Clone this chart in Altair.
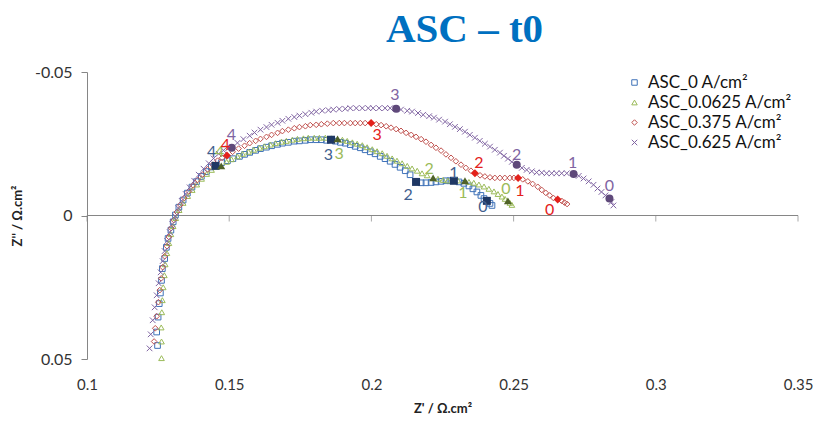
import altair as alt
import pandas as pd

SERIES = ["ASC_0 A/cm²", "ASC_0.0625 A/cm²", "ASC_0.375 A/cm²", "ASC_0.625 A/cm²"]

# Z' (Ohm.cm2), Z'' (Ohm.cm2)
blue_pts = [
    (0.1248, 0.0453), (0.1245, 0.0406), (0.1250, 0.0354), (0.1254, 0.0307), (0.1258, 0.0270),
    (0.1262, 0.0226), (0.1265, 0.0185), (0.1273, 0.0150), (0.1279, 0.0111), (0.1285, 0.0080),
    (0.1295, 0.0051), (0.1303, 0.0022), (0.1311, -0.0002), (0.1323, -0.0029), (0.1338, -0.0054),
    (0.1353, -0.0078), (0.1369, -0.0099), (0.1385, -0.0118), (0.1402, -0.0136), (0.1420, -0.0153),
    (0.1437, -0.0169),
    (0.1473, -0.0184), (0.1494, -0.0191), (0.1513, -0.0198), (0.1536, -0.0206), (0.1554, -0.0213),
    (0.1572, -0.0220), (0.1593, -0.0227), (0.1610, -0.0233), (0.1631, -0.0238), (0.1649, -0.0243),
    (0.1670, -0.0248), (0.1687, -0.0252), (0.1708, -0.0255), (0.1729, -0.0259), (0.1747, -0.0260),
    (0.1768, -0.0262), (0.1785, -0.0264), (0.1806, -0.0264), (0.1824, -0.0264), (0.1842, -0.0262),
    (0.1873, -0.0259), (0.1891, -0.0255), (0.1908, -0.0252), (0.1926, -0.0247), (0.1943, -0.0241),
    (0.1961, -0.0236), (0.1978, -0.0229), (0.1996, -0.0222), (0.2013, -0.0215), (0.2031, -0.0206),
    (0.2048, -0.0198), (0.2066, -0.0189), (0.2083, -0.0178), (0.2101, -0.0168), (0.2119, -0.0156),
    (0.2136, -0.0142),
    (0.2175, -0.0114), (0.2192, -0.0114), (0.2210, -0.0115), (0.2227, -0.0117), (0.2245, -0.0119),
    (0.2262, -0.0121), (0.2276, -0.0121),
    (0.2308, -0.0117), (0.2325, -0.0112), (0.2343, -0.0103), (0.2357, -0.0093), (0.2371, -0.0082),
    (0.2385, -0.0070), (0.2396, -0.0059), (0.2417, -0.0042), (0.2424, -0.0035),
]
green_pts = [
    (0.1262, 0.0497), (0.1262, 0.0439), (0.1261, 0.0390), (0.1263, 0.0337), (0.1265, 0.0295),
    (0.1268, 0.0250), (0.1272, 0.0208), (0.1275, 0.0170), (0.1281, 0.0131), (0.1288, 0.0096),
    (0.1295, 0.0065), (0.1303, 0.0037), (0.1312, 0.0009), (0.1324, -0.0019), (0.1338, -0.0044),
    (0.1354, -0.0068), (0.1370, -0.0089), (0.1386, -0.0108), (0.1403, -0.0128), (0.1421, -0.0145),
    (0.1438, -0.0159), (0.1456, -0.0170),
    (0.1491, -0.0187), (0.1508, -0.0196), (0.1529, -0.0206), (0.1547, -0.0215), (0.1568, -0.0222),
    (0.1586, -0.0229), (0.1607, -0.0236), (0.1624, -0.0241), (0.1645, -0.0247), (0.1663, -0.0252),
    (0.1684, -0.0257), (0.1701, -0.0260), (0.1722, -0.0264), (0.1740, -0.0267), (0.1761, -0.0269),
    (0.1778, -0.0271), (0.1799, -0.0271), (0.1817, -0.0271), (0.1838, -0.0271), (0.1859, -0.0269),
    (0.1898, -0.0264), (0.1915, -0.0260), (0.1933, -0.0255), (0.1950, -0.0250), (0.1968, -0.0245),
    (0.1985, -0.0238), (0.2003, -0.0231), (0.2020, -0.0224), (0.2038, -0.0217), (0.2055, -0.0208),
    (0.2073, -0.0199), (0.2090, -0.0191), (0.2108, -0.0182), (0.2126, -0.0173), (0.2143, -0.0164),
    (0.2161, -0.0156), (0.2178, -0.0147), (0.2196, -0.0140),
    (0.2234, -0.0128), (0.2252, -0.0124), (0.2269, -0.0122), (0.2287, -0.0122), (0.2304, -0.0122),
    (0.2343, -0.0117), (0.2360, -0.0114), (0.2378, -0.0108), (0.2396, -0.0101), (0.2413, -0.0093),
    (0.2431, -0.0084), (0.2445, -0.0075), (0.2459, -0.0066), (0.2470, -0.0058), (0.2487, -0.0044),
    (0.2494, -0.0037),
]
red_pts = [
    (0.1236, 0.0439), (0.1240, 0.0393), (0.1245, 0.0351), (0.1251, 0.0302), (0.1256, 0.0260),
    (0.1261, 0.0219), (0.1266, 0.0180), (0.1273, 0.0142), (0.1281, 0.0107), (0.1288, 0.0075),
    (0.1296, 0.0044), (0.1305, 0.0016), (0.1316, -0.0012), (0.1328, -0.0037), (0.1342, -0.0061),
    (0.1358, -0.0084), (0.1373, -0.0105), (0.1389, -0.0124), (0.1407, -0.0143), (0.1424, -0.0161),
    (0.1442, -0.0177), (0.1459, -0.0191), (0.1475, -0.0201),
    (0.1512, -0.0222), (0.1533, -0.0233), (0.1554, -0.0243), (0.1572, -0.0252), (0.1593, -0.0260),
    (0.1610, -0.0267), (0.1631, -0.0274), (0.1649, -0.0281), (0.1670, -0.0288), (0.1687, -0.0294),
    (0.1708, -0.0299), (0.1729, -0.0304), (0.1747, -0.0308), (0.1768, -0.0311), (0.1785, -0.0315),
    (0.1806, -0.0316), (0.1824, -0.0318), (0.1845, -0.0320), (0.1866, -0.0322), (0.1887, -0.0322),
    (0.1905, -0.0322), (0.1926, -0.0322), (0.1943, -0.0322), (0.1961, -0.0322), (0.1978, -0.0322),
    (0.2017, -0.0318), (0.2034, -0.0315), (0.2052, -0.0311), (0.2069, -0.0306), (0.2087, -0.0301),
    (0.2104, -0.0295), (0.2122, -0.0288), (0.2140, -0.0281), (0.2157, -0.0274), (0.2175, -0.0266),
    (0.2192, -0.0257), (0.2210, -0.0246), (0.2227, -0.0236), (0.2245, -0.0226), (0.2262, -0.0213),
    (0.2280, -0.0201), (0.2297, -0.0189), (0.2315, -0.0177), (0.2332, -0.0166), (0.2350, -0.0156),
    (0.2382, -0.0140), (0.2399, -0.0136), (0.2417, -0.0133), (0.2434, -0.0131), (0.2452, -0.0131),
    (0.2469, -0.0131), (0.2487, -0.0131), (0.2501, -0.0131),
    (0.2532, -0.0126), (0.2550, -0.0119), (0.2567, -0.0110), (0.2585, -0.0100), (0.2599, -0.0089),
    (0.2613, -0.0079), (0.2627, -0.0070), (0.2640, -0.0061), (0.2669, -0.0051), (0.2679, -0.0045),
    (0.2688, -0.0040),
]
purple_pts = [
    (0.1220, 0.0463), (0.1224, 0.0414), (0.1231, 0.0365), (0.1238, 0.0320), (0.1245, 0.0278),
    (0.1252, 0.0236), (0.1259, 0.0198), (0.1266, 0.0159), (0.1273, 0.0124), (0.1282, 0.0089),
    (0.1291, 0.0058), (0.1300, 0.0030), (0.1310, 0.0002), (0.1321, -0.0026), (0.1333, -0.0051),
    (0.1347, -0.0075), (0.1361, -0.0098), (0.1377, -0.0121), (0.1393, -0.0142), (0.1410, -0.0163),
    (0.1428, -0.0182), (0.1445, -0.0199), (0.1463, -0.0215), (0.1480, -0.0227), (0.1496, -0.0234),
    (0.1529, -0.0253), (0.1550, -0.0266), (0.1572, -0.0278), (0.1589, -0.0289), (0.1610, -0.0299),
    (0.1631, -0.0308), (0.1649, -0.0316), (0.1670, -0.0323), (0.1687, -0.0330), (0.1708, -0.0337),
    (0.1729, -0.0343), (0.1747, -0.0348), (0.1768, -0.0353), (0.1789, -0.0358), (0.1806, -0.0362),
    (0.1827, -0.0365), (0.1849, -0.0367), (0.1866, -0.0369), (0.1887, -0.0371), (0.1908, -0.0372),
    (0.1926, -0.0374), (0.1947, -0.0374), (0.1968, -0.0374), (0.1989, -0.0374), (0.2006, -0.0374),
    (0.2027, -0.0374), (0.2048, -0.0374), (0.2066, -0.0374),
    (0.2104, -0.0369), (0.2126, -0.0365), (0.2143, -0.0362), (0.2164, -0.0357), (0.2182, -0.0351),
    (0.2203, -0.0346), (0.2220, -0.0341), (0.2238, -0.0334), (0.2259, -0.0327), (0.2276, -0.0318),
    (0.2294, -0.0309), (0.2311, -0.0301), (0.2329, -0.0292), (0.2346, -0.0281), (0.2364, -0.0271),
    (0.2381, -0.0260), (0.2399, -0.0250), (0.2417, -0.0240), (0.2434, -0.0229), (0.2452, -0.0219),
    (0.2466, -0.0208), (0.2480, -0.0198), (0.2494, -0.0187),
    (0.2529, -0.0166), (0.2546, -0.0159), (0.2564, -0.0154), (0.2581, -0.0150), (0.2599, -0.0149),
    (0.2616, -0.0147), (0.2634, -0.0147), (0.2651, -0.0147), (0.2669, -0.0147), (0.2687, -0.0147),
    (0.2729, -0.0138), (0.2746, -0.0129), (0.2764, -0.0119), (0.2781, -0.0107), (0.2795, -0.0094),
    (0.2809, -0.0082), (0.2823, -0.0070), (0.2844, -0.0047), (0.2851, -0.0035),
]

# highlighted decade points (labels 4, 3, 2, 1, 0)
DECADES = ["4", "3", "2", "1", "0"]
blue_dec = [(0.1452, -0.0173), (0.1858, -0.0264), (0.2157, -0.0117), (0.2290, -0.0121), (0.2406, -0.0051)]
green_dec = [(0.1472, -0.0173), (0.1881, -0.0267), (0.2217, -0.0131), (0.2329, -0.0121), (0.2480, -0.0051)]
red_dec = [(0.1492, -0.0209), (0.1999, -0.0322), (0.2364, -0.0147), (0.2516, -0.0131), (0.2655, -0.0056)]
purple_dec = [(0.1509, -0.0236), (0.2087, -0.0372), (0.2511, -0.0177), (0.2711, -0.0145), (0.2837, -0.0059)]

# where each decade label sits
blue_lab = [(0.1438, -0.0222), (0.1849, -0.0212), (0.2129, -0.0072), (0.2290, -0.0149), (0.2392, -0.0030)]
green_lab = [(0.1466, -0.0222), (0.1887, -0.0215), (0.2203, -0.0163), (0.2322, -0.0079), (0.2473, -0.0093)]
red_lab = [(0.1487, -0.0247), (0.2020, -0.0281), (0.2378, -0.0184), (0.2522, -0.0086), (0.2627, -0.0019)]
purple_lab = [(0.1508, -0.0281), (0.2083, -0.0421), (0.2511, -0.0212), (0.2708, -0.0184), (0.2837, -0.0103)]

X_TICKS = [0.1, 0.15, 0.2, 0.25, 0.3, 0.35]
Y_TICKS = [-0.05, 0, 0.05]

HOLLOW_COLORS = ["#3F72B8", "#9BBB59", "#C0504D", "#8064A2"]
FILLED_COLORS = ["#1F3864", "#4F6228", "#E3211C", "#5F497A"]
LABEL_COLORS = ["#3F5E8E", "#9BBB59", "#E3211C", "#8064A2"]
HOLLOW_SHAPES = ["square", "triangle-up", "diamond", "M-1,-1L1,1M-1,1L1,-1"]
FILLED_SHAPES = ["square", "triangle-up", "diamond", "circle"]

pts_rows, dec_rows, lab_rows = [], [], []
for name, pts, dec, lab in zip(
    SERIES,
    [blue_pts, green_pts, red_pts, purple_pts],
    [blue_dec, green_dec, red_dec, purple_dec],
    [blue_lab, green_lab, red_lab, purple_lab],
):
    for x, y in pts:
        pts_rows.append({"series": name, "zr": x, "zi": y})
    for (x, y), d in zip(dec, DECADES):
        dec_rows.append({"series": name, "zr": x, "zi": y, "dec": d})
    for (x, y), d in zip(lab, DECADES):
        lab_rows.append({"series": name, "zr": x, "zi": y, "dec": d})

df_pts = pd.DataFrame(pts_rows)
df_dec = pd.DataFrame(dec_rows)
df_lab = pd.DataFrame(lab_rows)
df_zero = pd.DataFrame({"zi": [0.0]})
df_ticks = pd.DataFrame({"zr": X_TICKS, "zi": [0.0] * len(X_TICKS)})

FONT = "Lato"
xscale = alt.Scale(domain=[0.1, 0.35], nice=False, zero=False)
yscale = alt.Scale(domain=[-0.05, 0.05], nice=False, zero=False, reverse=True)

xaxis = alt.Axis(
    values=X_TICKS, format="~g", domain=False, ticks=False, grid=False, labelFlush=False,
    labelFont=FONT, labelFontSize=15, labelColor="#333333", labelPadding=18,
    title="Z' / Ω.cm²", titleFont=FONT, titleFontSize=13, titleFontWeight="bold",
    titleColor="#222222", titlePadding=10,
)
yaxis = alt.Axis(
    values=Y_TICKS, format="~g", labelExpr="replace(datum.label, '\u2212', '-')",
    domain=True, domainColor="#868686", ticks=True, tickColor="#868686", tickSize=6,
    grid=False, labelFont=FONT, labelFontSize=16, labelColor="#333333", labelPadding=9,
    labelFlush=False,
    title="Z'' / Ω.cm²", titleFont=FONT, titleFontSize=13, titleFontWeight="bold",
    titleColor="#222222", titlePadding=10,
)

X = alt.X("zr:Q", scale=xscale, axis=xaxis)
Y = alt.Y("zi:Q", scale=yscale, axis=yaxis)

zero_line = alt.Chart(df_zero).mark_rule(color="#868686", strokeWidth=1).encode(y=Y)
zero_ticks = alt.Chart(df_ticks).mark_tick(
    orient="vertical", size=6, thickness=1, yOffset=3, color="#868686"
).encode(x=X, y=Y)

legend = alt.Legend(title=None, orient="none", legendX=539, legendY=2,
                    labelFont=FONT, labelFontSize=17, labelColor="#111111",
                    symbolSize=30, symbolStrokeWidth=1, rowPadding=2,
                    labelOffset=5, padding=0)

hollow = alt.Chart(df_pts).mark_point(filled=False, size=32, strokeWidth=1, opacity=1).encode(
    x=X, y=Y,
    color=alt.Color("series:N", scale=alt.Scale(domain=SERIES, range=HOLLOW_COLORS), legend=legend),
    shape=alt.Shape("series:N", scale=alt.Scale(domain=SERIES, range=HOLLOW_SHAPES), legend=legend),
    order=alt.Order("series:N"),
)

filled = alt.Chart(df_dec).mark_point(filled=True, size=64, opacity=1).encode(
    x=X, y=Y,
    color=alt.Color("series:N", scale=alt.Scale(domain=SERIES, range=FILLED_COLORS), legend=None),
    shape=alt.Shape("series:N", scale=alt.Scale(domain=SERIES, range=FILLED_SHAPES), legend=None),
)

labels = alt.Chart(df_lab).mark_text(font=FONT, fontSize=16, align="center", baseline="middle").encode(
    x=X, y=Y, text="dec:N",
    color=alt.Color("series:N", scale=alt.Scale(domain=SERIES, range=LABEL_COLORS), legend=None),
)

chart = (
    alt.layer(zero_line, zero_ticks, hollow, filled, labels)
    .resolve_scale(color="independent", shape="independent")
    .properties(
        width=711, height=287,
        autosize=alt.AutoSizeParams(type="none"),
        padding={"left": 79, "top": 64, "right": 15, "bottom": 55},
        title=alt.TitleParams("ASC – t0", font="Liberation Serif", fontSize=41, fontWeight="bold",
                              color="#0070C0", anchor="middle", dx=22, offset=13),
        background="white",
    )
    .configure_view(stroke=None)
)

chart.save("out.html", embed_options={"renderer": "svg", "actions": False})
